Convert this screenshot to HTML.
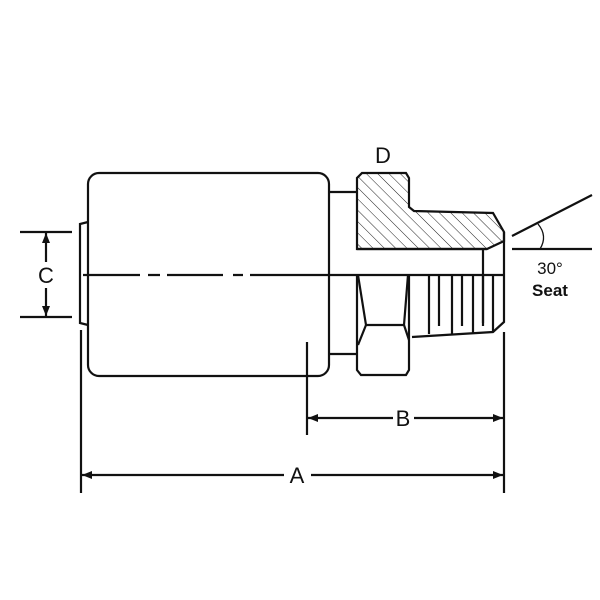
<!DOCTYPE html>
<html><head><style>body{margin:0;background:#fff}svg{display:block}</style></head><body>
<svg width="600" height="600" viewBox="0 0 600 600" xmlns="http://www.w3.org/2000/svg">
<defs>
<pattern id="h" width="8" height="8" patternUnits="userSpaceOnUse" patternTransform="rotate(-45)">
<line x1="0" y1="0" x2="0" y2="8" stroke="#222" stroke-width="1"/>
</pattern>
<marker id="ar" markerWidth="10" markerHeight="8" refX="10" refY="4" orient="auto" markerUnits="userSpaceOnUse">
<path d="M0,0 L10,4 L0,8 z" fill="#111"/>
</marker>
</defs>
<g fill="none" stroke="#111" stroke-width="2.2">
<rect x="88" y="173" width="241" height="203" rx="11"/>
<path d="M88,222 L80,224 L80,323 L88,325"/>
<path d="M329,192 L357,192 M329,354 L357,354"/>
<path d="M357,249 L357,178 L362,173 L406,173 L409,178 L409,207 L414,211 L493,213 L504,232 L504,241 L487,249 Z" fill="url(#h)"/>
<path d="M357,249 L487,249 M483,249 L483,323"/>
<path d="M504,232 L504,322 L493,332 L412,337"/>
<path d="M357,275 L357,370 L361,375 L406,375 L409,370 L409,275"/>
<path d="M358,275 L366,325 L404,325 L408,275 M366,325 L358,345 M404,325 L409,340"/>
<path d="M357,275 L504,275"/>
<path d="M83,275 L140,275 M148,275 L160,275 M167,275 L223,275 M233,275 L243,275 M250,275 L357,275"/>
<path d="M429,275 L429,334 M439,275 L439,326 M452,275 L452,334 M462,275 L462,326 M473,275 L473,333 M483,275 L483,326 M493,275 L493,332"/>
<path d="M20,232 L72,232 M20,317 L72,317"/>
<path d="M46,262 L46,233" marker-end="url(#ar)"/>
<path d="M46,288 L46,316" marker-end="url(#ar)"/>
<path d="M81,330 L81,493 M307,342 L307,435 M504,332 L504,493"/>
<path d="M393,418 L308,418" marker-end="url(#ar)"/>
<path d="M414,418 L503,418" marker-end="url(#ar)"/>
<path d="M284,475 L82,475" marker-end="url(#ar)"/>
<path d="M311,475 L503,475" marker-end="url(#ar)"/>
<path d="M512,249 L592,249 M512,236 L592,195"/>
<path d="M538,224 Q548,236 540,249" stroke-width="1.3"/>
</g>
<g font-family="Liberation Sans, sans-serif" fill="#111" text-anchor="middle">
<text x="46" y="283" font-size="22">C</text>
<text x="383" y="163" font-size="22">D</text>
<text x="403" y="426" font-size="22">B</text>
<text x="297" y="483" font-size="22">A</text>
<text x="550" y="274" font-size="17">30°</text>
<text x="550" y="296" font-size="17" font-weight="bold">Seat</text>
</g>
</svg>
</body></html>
